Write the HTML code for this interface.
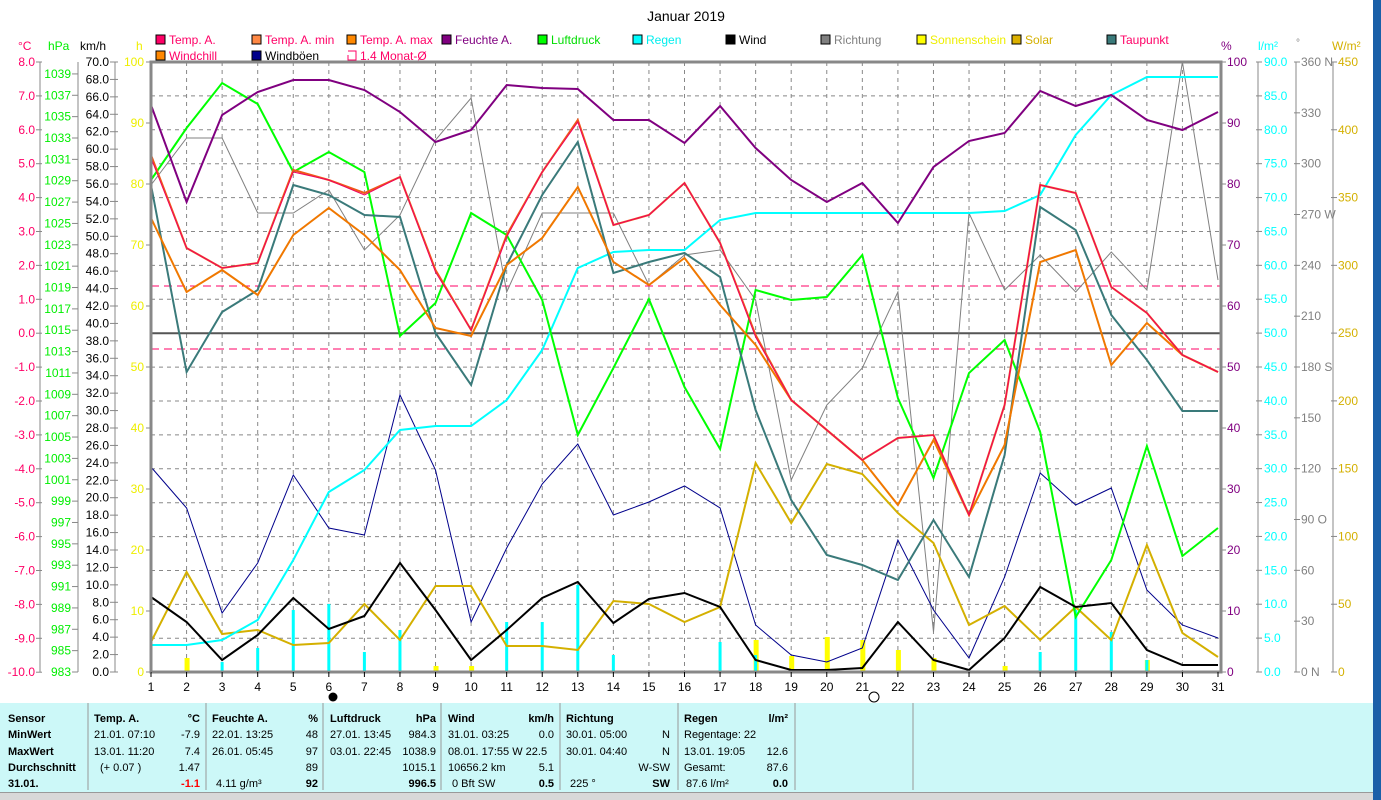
<!DOCTYPE html>
<html><head><meta charset="utf-8"><style>
body{margin:0;width:1381px;height:800px;overflow:hidden;background:#fff;font-family:"Liberation Sans",sans-serif}
svg{position:absolute;left:0;top:0}
</style></head><body>
<svg id="s" width="1381" height="800" xmlns="http://www.w3.org/2000/svg" font-family="Liberation Sans, sans-serif"></svg>
<script>
const S=document.getElementById('s');let h='';
const X=d=>151+(d-1)*1067/30;
const T=t=>62+(8-t)*33.9;
// background table
h+='<rect x="0" y="703" width="1373" height="89" fill="#ccf8f8"/>';
h+='<rect x="0" y="792" width="1373" height="8" fill="#d8d8d8"/><line x1="0" y1="792.5" x2="1373" y2="792.5" stroke="#999"/>';
h+='<rect x="1373" y="0" width="8" height="800" fill="#1a5fa8"/>';
[88,206,323,441,560,678,795,913].forEach(x=>h+=`<line x1="${x}" y1="703" x2="${x}" y2="790" stroke="#999"/>`);
// grid
for(let d=2;d<=30;d++)h+=`<line x1="${X(d)}" y1="62" x2="${X(d)}" y2="672" stroke="#888" stroke-dasharray="4,4"/>`;
for(let i=1;i<18;i++){const y=62+i*33.9;h+=`<line x1="151" y1="${y}" x2="1221" y2="${y}" stroke="#888" stroke-dasharray="4,4"/>`;}
h+=`<line x1="151" y1="${T(0)}" x2="1221" y2="${T(0)}" stroke="#555" stroke-width="2"/>`;
h+=`<line x1="151" y1="286" x2="1221" y2="286" stroke="#f06" stroke-dasharray="8,5"/>`;
h+=`<line x1="151" y1="349" x2="1221" y2="349" stroke="#f06" stroke-dasharray="8,5"/>`;
// bars
const sun={2:658,9:666,10:666,18:640,19:656,20:637,21:640,22:650,23:658,25:666,29:660};
for(const d in sun)h+=`<rect x="${X(+d)-2}" y="${sun[d]}" width="5" height="${672-sun[d]}" fill="#ff0"/>`;
const rn={1:670,3:662,4:648,5:610,6:604,7:652,8:630,11:622,12:622,13:585,14:655,17:642,18:655,26:652,27:610,28:632,29:660};
for(const d in rn)h+=`<rect x="${X(+d)-1.5}" y="${rn[d]}" width="3" height="${672-rn[d]}" fill="#0ff"/>`;
function line(a,c,w){h+=`<polyline fill="none" stroke="${c}" stroke-width="${w}" points="${a.map((y,i)=>X(i+1).toFixed(1)+','+y).join(' ')}"/>`;}
line([185,138,138,213,213,190,250,215,140,98,292,213,213,213,285,255,250,300,480,405,368,292,632,213,290,255,292,252,290,62,280],'#808080',1);
line([467,508,613,563,475,528,535,395,470,622,548,484,444,515,502,486,508,625,655,662,648,540,610,658,577,473,505,488,590,625,638],'#00008b',1);
line([642,572,634,630,645,643,604,640,586,586,646,646,650,601,604,622,607,463,523,464,474,513,543,625,606,640,607,640,545,633,657],'#d4b000',2);
line([645,645,640,620,560,492,470,430,426,426,400,350,268,252,250,250,220,213,213,213,213,213,213,213,211,195,135,95,77,77,77],'#0ff',2);
line([180,128,83,104,172,152,172,336,303,213,235,300,435,368,299,387,449,290,300,297,255,398,478,373,340,432,617,560,446,556,528],'#0f0',2);
line([105,202,115,92,80,80,90,112,142,130,85,88,89,120,120,143,106,148,180,202,183,223,167,141,133,91,106,95,120,130,112],'#800080',2);
line([185,372,312,290,185,195,215,217,333,385,265,195,142,273,262,253,277,410,500,555,565,580,520,577,455,207,230,315,360,411,411],'#3a7a7a',2);
line([218,292,270,295,235,208,235,270,328,336,265,238,187,262,285,258,305,345,400,430,460,505,440,515,445,262,250,365,323,355,372],'#f07800',2);
line([155,248,268,263,170,180,193,177,270,330,235,172,120,225,215,183,243,335,400,430,460,438,435,515,405,185,193,287,313,355,372],'#f0581a',2);
line([158,248,268,263,172,180,195,177,272,330,237,172,122,225,215,183,243,337,400,430,460,438,435,515,405,185,193,287,313,355,372],'#f00060',1);
line([597,622,660,635,598,629,616,563,610,660,630,598,582,623,599,593,607,660,670,670,668,622,660,670,638,587,607,603,650,665,665],'#000',2);
// frame
h+='<rect x="151" y="62" width="1070" height="610" fill="none" stroke="#888" stroke-width="3"/>';
// x labels
for(let d=1;d<=31;d++){h+=`<line x1="${X(d)}" y1="672" x2="${X(d)}" y2="677" stroke="#000"/><text x="${X(d)}" y="691" font-size="12" text-anchor="middle">${d}</text>`;}
h+='<circle cx="333" cy="697" r="4.5" fill="#000"/><circle cx="874" cy="697" r="5" fill="none" stroke="#000"/>';
// left axes
const ax=(x,col)=>h+=`<line x1="${x}" y1="62" x2="${x}" y2="672" stroke="#888"/>`;
ax(40);ax(78);ax(115);
for(let i=0;i<=18;i++){const y=62+i*33.9,v=(8-i).toFixed(1);h+=`<line x1="36" y1="${y}" x2="42" y2="${y}" stroke="#888"/><text x="35" y="${y+4}" font-size="12" fill="#f06" text-anchor="end">${v}</text>`;}
for(let p=983;p<=1039;p+=2){const y=672-(p-983)*10.68;h+=`<line x1="72" y1="${y}" x2="78" y2="${y}" stroke="#888"/><text x="71" y="${y+4}" font-size="12" fill="#0e0" text-anchor="end">${p}</text>`;}
for(let k=0;k<=70;k+=2){const y=672-k*610/70;h+=`<line x1="110" y1="${y}" x2="118" y2="${y}" stroke="#888"/><text x="109" y="${y+4}" font-size="12" text-anchor="end">${k.toFixed(1)}</text>`;}
for(let k=0;k<=100;k+=10){const y=672-k*6.1;h+=`<line x1="146" y1="${y}" x2="151" y2="${y}" stroke="#888"/><text x="144" y="${y+4}" font-size="12" fill="#ee0" text-anchor="end">${k}</text>`;}
h+='<text x="18" y="50" font-size="12" fill="#f06">°C</text><text x="48" y="50" font-size="12" fill="#0e0">hPa</text><text x="80" y="50" font-size="12">km/h</text><text x="136" y="50" font-size="12" fill="#ee0">h</text>';
// right axes
ax(1258);ax(1296);ax(1333);
for(let k=0;k<=100;k+=10){const y=672-k*6.1;h+=`<line x1="1221" y1="${y}" x2="1226" y2="${y}" stroke="#888"/><text x="1227" y="${y+4}" font-size="12" fill="#800080">${k}</text>`;}
for(let k=0;k<=90;k+=5){const y=672-k*610/90;h+=`<line x1="1256" y1="${y}" x2="1262" y2="${y}" stroke="#888"/><text x="1264" y="${y+4}" font-size="12" fill="#0ff">${k.toFixed(1)}</text>`;}
const dn={0:'N',90:'O',180:'S',270:'W',360:'N'};
for(let k=0;k<=360;k+=30){const y=672-k*610/360;h+=`<line x1="1294" y1="${y}" x2="1300" y2="${y}" stroke="#888"/><text x="1301" y="${y+4}" font-size="12" fill="#808080">${k}${dn[k]?' '+dn[k]:''}</text>`;}
for(let k=0;k<=450;k+=50){const y=672-k*610/450;h+=`<line x1="1331" y1="${y}" x2="1337" y2="${y}" stroke="#888"/><text x="1338" y="${y+4}" font-size="12" fill="#d4b000">${k}</text>`;}
h+='<text x="1221" y="50" font-size="12" fill="#800080">%</text><text x="1258" y="50" font-size="12" fill="#0ff">l/m²</text><text x="1296" y="46" font-size="10" fill="#808080">°</text><text x="1332" y="50" font-size="12" fill="#d4b000">W/m²</text>';
// title + legend
h+='<text x="686" y="21" font-size="14" text-anchor="middle">Januar 2019</text>';
const lg=[[161,40,'#f06','Temp. A.','#f06'],[257,40,'#f84','Temp. A. min','#f06'],[352,40,'#f80','Temp. A. max','#f06'],[447,40,'#800080','Feuchte A.','#800080'],[543,40,'#0f0','Luftdruck','#0d0'],[638,40,'#0ff','Regen','#0ee'],[731,40,'#000','Wind','#000'],[826,40,'#808080','Richtung','#808080'],[922,40,'#ff0','Sonnenschein','#ee0'],[1017,40,'#dbb000','Solar','#d4b000'],[1112,40,'#3a7a7a','Taupunkt','#f06'],[161,56,'#f80','Windchill','#f06'],[257,56,'#00008b','Windböen','#000']];
lg.forEach(([x,y,c,t,tc])=>h+=`<rect x="${x-5}" y="${y-5}" width="9" height="9" fill="${c}" stroke="#000"/><text x="${x+8}" y="${y+4}" font-size="12" fill="${tc}">${t}</text>`);
h+='<path d="M348 51 H356 V60 H348 V55" fill="none" stroke="#f06"/><text x="360" y="60" font-size="12" fill="#f06">1.4 Monat-Ø</text>';
// table text
const R=[718,734,751,767,783];
const tx=(x,y,t,o='')=>h+=`<text x="${x}" y="${y+4}" font-size="11" ${o}>${t}</text>`;
const B='font-weight="bold"',E='text-anchor="end"';
[['Sensor'],['MinWert'],['MaxWert'],['Durchschnitt'],['31.01.']].forEach((r,i)=>tx(8,R[i],r[0],B));
tx(94,R[0],'Temp. A.',B);tx(200,R[0],'°C',B+' '+E);tx(94,R[1],'21.01.  07:10');tx(200,R[1],'-7.9',E);tx(94,R[2],'13.01.  11:20');tx(200,R[2],'7.4',E);tx(100,R[3],'(+ 0.07 )');tx(200,R[3],'1.47',E);tx(200,R[4],'-1.1',B+' fill="#f00" '+E);
tx(212,R[0],'Feuchte A.',B);tx(318,R[0],'%',B+' '+E);tx(212,R[1],'22.01.  13:25');tx(318,R[1],'48',E);tx(212,R[2],'26.01.  05:45');tx(318,R[2],'97',E);tx(318,R[3],'89',E);tx(216,R[4],'4.11 g/m³');tx(318,R[4],'92',B+' '+E);
tx(330,R[0],'Luftdruck',B);tx(436,R[0],'hPa',B+' '+E);tx(330,R[1],'27.01.  13:45');tx(436,R[1],'984.3',E);tx(330,R[2],'03.01.  22:45');tx(436,R[2],'1038.9',E);tx(436,R[3],'1015.1',E);tx(436,R[4],'996.5',B+' '+E);
tx(448,R[0],'Wind',B);tx(554,R[0],'km/h',B+' '+E);tx(448,R[1],'31.01.  03:25');tx(554,R[1],'0.0',E);tx(448,R[2],'08.01.  17:55  W 22.5');tx(448,R[3],'10656.2 km');tx(554,R[3],'5.1',E);tx(452,R[4],'0 Bft SW');tx(554,R[4],'0.5',B+' '+E);
tx(566,R[0],'Richtung',B);tx(566,R[1],'30.01.  05:00');tx(670,R[1],'N',E);tx(566,R[2],'30.01.  04:40');tx(670,R[2],'N',E);tx(670,R[3],'W-SW',E);tx(570,R[4],'225 °');tx(670,R[4],'SW',B+' '+E);
tx(684,R[0],'Regen',B);tx(788,R[0],'l/m²',B+' '+E);tx(684,R[1],'Regentage: 22');tx(684,R[2],'13.01.  19:05');tx(788,R[2],'12.6',E);tx(684,R[3],'Gesamt:');tx(788,R[3],'87.6',E);tx(686,R[4],'87.6 l/m²');tx(788,R[4],'0.0',B+' '+E);
S.innerHTML=h;
</script>
</body></html>
